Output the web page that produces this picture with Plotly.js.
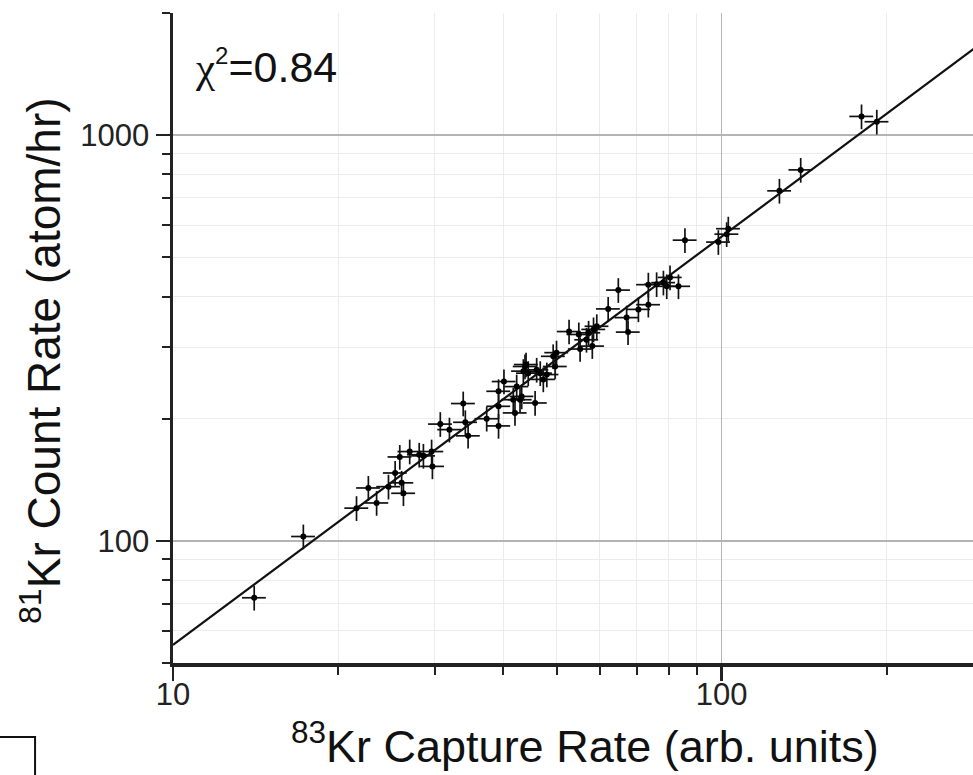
<!DOCTYPE html>
<html>
<head>
<meta charset="utf-8">
<script src="https://cdn.plot.ly/plotly-3.0.1.min.js"></script>
<style>
html, body { margin: 0; padding: 0; background: #fff; overflow: hidden; }
#chart { width: 980px; height: 775px; }
</style>
</head>
<body>
<div id="chart"></div>
<script>
// 83Kr capture rate (arb. units)
const captureRate = [14.06, 17.28, 21.6, 22.7, 23.5, 24.7, 25.4, 26.1, 26.3, 25.9,
  27.0, 28.1, 28.6, 29.6, 29.7, 30.7, 31.9, 33.8, 34.1, 34.5,
  37.3, 39.2, 39.2, 39.2, 40.1, 41.7, 42.0, 42.3, 42.9, 43.2,
  43.5, 43.8, 44.0, 44.4, 45.7, 46.0, 46.7, 47.3, 48.0, 49.3,
  49.7, 50.0, 52.7, 54.9, 55.2, 56.7, 57.2, 58.1, 58.4, 59.2,
  62.1, 64.8, 67.1, 67.5, 70.5, 73.5, 73.5, 76.1, 78.3, 79.4,
  80.5, 83.4, 85.7, 98.6, 102.1, 102.8, 127.4, 139.3, 179.8, 191.7];
// 81Kr count rate (atom/hr)
const countRate = [72.4, 102.5, 120.4, 135, 124, 136, 147, 139, 131, 161,
  166, 163, 162, 166, 152.6, 194, 188, 218, 196, 181.5,
  200, 214.6, 233.7, 192, 247, 222.8, 206.7, 240, 222.8, 227,
  262, 269, 272, 259, 218.7, 264, 259, 250, 257, 285,
  269, 291, 328, 322.6, 297, 313, 325.7, 302, 332, 338,
  373, 415, 355, 327, 372, 382, 428, 429, 433, 424,
  446, 424, 551, 545, 570, 588, 729, 821, 1112, 1079];
// linear fit line (end points)
const fitX = [10, 290];
const fitY = [55.4, 1643];

const xTickVals = [10, 100];
const xTickText = ["10", "100"];
const xMinorVals = [20, 30, 40, 50, 60, 70, 80, 90, 200];
const yTickVals = [100, 1000];
const yTickText = ["100", "1000"];
const yMinorVals = [50, 60, 70, 80, 90, 200, 300, 400, 500, 600, 700, 800, 900, 2000];

const xTitle = "<sup>83</sup>Kr Capture Rate (arb. units)";
const yTitle = "<sup>81</sup>Kr Count Rate (atom/hr)";
const chiText = "<span style=\"font-family:'Liberation Serif',serif\">χ</span><sup><span style=\"font-size:24px\">2</span></sup>=0.84";

const FONT = "Liberation Sans, Arial, Helvetica, sans-serif";
const xRange = [1, 2.4616];
const yRange = [Math.log10(50), Math.log10(2000)];

const traces = [
  {
    x: fitX, y: fitY, type: "scatter", mode: "lines",
    line: {color: "#111", width: 2.2}, hoverinfo: "skip", showlegend: false
  },
  {
    x: captureRate, y: countRate, type: "scatter", mode: "markers",
    marker: {color: "#000", size: 6},
    error_x: {type: "percent", value: 5, color: "#111", thickness: 1.7, width: 0},
    error_y: {type: "percent", value: 7, color: "#111", thickness: 1.7, width: 0},
    showlegend: false
  }
];

const tickStyle = {ticklen: 14, tickwidth: 2.5, tickcolor: "#222"};

const layout = {
  width: 980, height: 775,
  margin: {l: 173, r: 5, t: 13, b: 112},
  paper_bgcolor: "#fff", plot_bgcolor: "#fff",
  font: {family: FONT, color: "#111"},
  showlegend: false,
  xaxis: Object.assign({
    type: "log", range: xRange,
    tickmode: "array", tickvals: xTickVals, ticktext: xTickText,
    ticks: "outside",
    tickfont: {size: 31, family: FONT, color: "#222"},
    ticklabelstandoff: -13,
    showline: true, linewidth: 3.5, linecolor: "#222",
    showgrid: true, gridcolor: "#b4b4b4", gridwidth: 1.5,
    zeroline: false,
    minor: {tickmode: "array", tickvals: xMinorVals, ticks: "outside", ticklen: 8,
            tickwidth: 2, tickcolor: "#222", showgrid: true, gridcolor: "#ececec", gridwidth: 1}
  }, tickStyle),
  yaxis: Object.assign({
    type: "log", range: yRange,
    tickmode: "array", tickvals: yTickVals, ticktext: yTickText,
    ticks: "outside",
    tickfont: {size: 31, family: FONT, color: "#222"},
    showline: true, linewidth: 3.5, linecolor: "#222",
    showgrid: true, gridcolor: "#b4b4b4", gridwidth: 1.5,
    zeroline: false,
    minor: {tickmode: "array", tickvals: yMinorVals, ticks: "outside", ticklen: 8,
            tickwidth: 2, tickcolor: "#222", showgrid: true, gridcolor: "#ececec", gridwidth: 1}
  }, tickStyle),
  xaxis2: {
    type: "log", range: xRange, overlaying: "x", side: "top", anchor: "y",
    tickmode: "array", tickvals: xTickVals, showticklabels: false,
    ticks: "inside", ticklen: 13, tickwidth: 2, tickcolor: "#222",
    showline: true, linewidth: 2.5, linecolor: "#222",
    showgrid: false, zeroline: false,
    minor: {tickmode: "array", tickvals: xMinorVals, ticks: "inside", ticklen: 7,
            tickwidth: 2, tickcolor: "#222", showgrid: false}
  },
  yaxis2: {
    type: "log", range: yRange, overlaying: "y", side: "right", anchor: "x",
    tickmode: "array", tickvals: yTickVals, showticklabels: false,
    ticks: "inside", ticklen: 13, tickwidth: 2.5, tickcolor: "#222",
    showline: true, linewidth: 2.5, linecolor: "#222",
    showgrid: false, zeroline: false,
    minor: {tickmode: "array", tickvals: yMinorVals, ticks: "inside", ticklen: 7,
            tickwidth: 2, tickcolor: "#222", showgrid: false}
  },
  annotations: [
    {
      text: chiText, xref: "paper", yref: "paper", x: 0.025, y: 0.958,
      xanchor: "left", yanchor: "top", showarrow: false,
      font: {size: 43, family: FONT, color: "#111"}
    },
    {
      text: xTitle, xref: "paper", yref: "paper", x: 0.5137, y: -0.123,
      xanchor: "center", yanchor: "middle", showarrow: false,
      font: {size: 45, family: FONT, color: "#111"}
    },
    {
      text: yTitle, xref: "paper", yref: "paper", x: -0.1646, y: 0.466,
      xanchor: "center", yanchor: "middle", showarrow: false, textangle: -90,
      font: {size: 46, family: FONT, color: "#111"}
    }
  ],
  shapes: [{
    type: "rect", xref: "paper", yref: "paper",
    x0: -0.3, x1: -0.172, y0: -0.3, y1: -0.1138,
    line: {color: "#111", width: 2}, fillcolor: "rgba(0,0,0,0)"
  }]
};

Plotly.newPlot("chart", traces, layout, {displayModeBar: false, staticPlot: true});
</script>
</body>
</html>
